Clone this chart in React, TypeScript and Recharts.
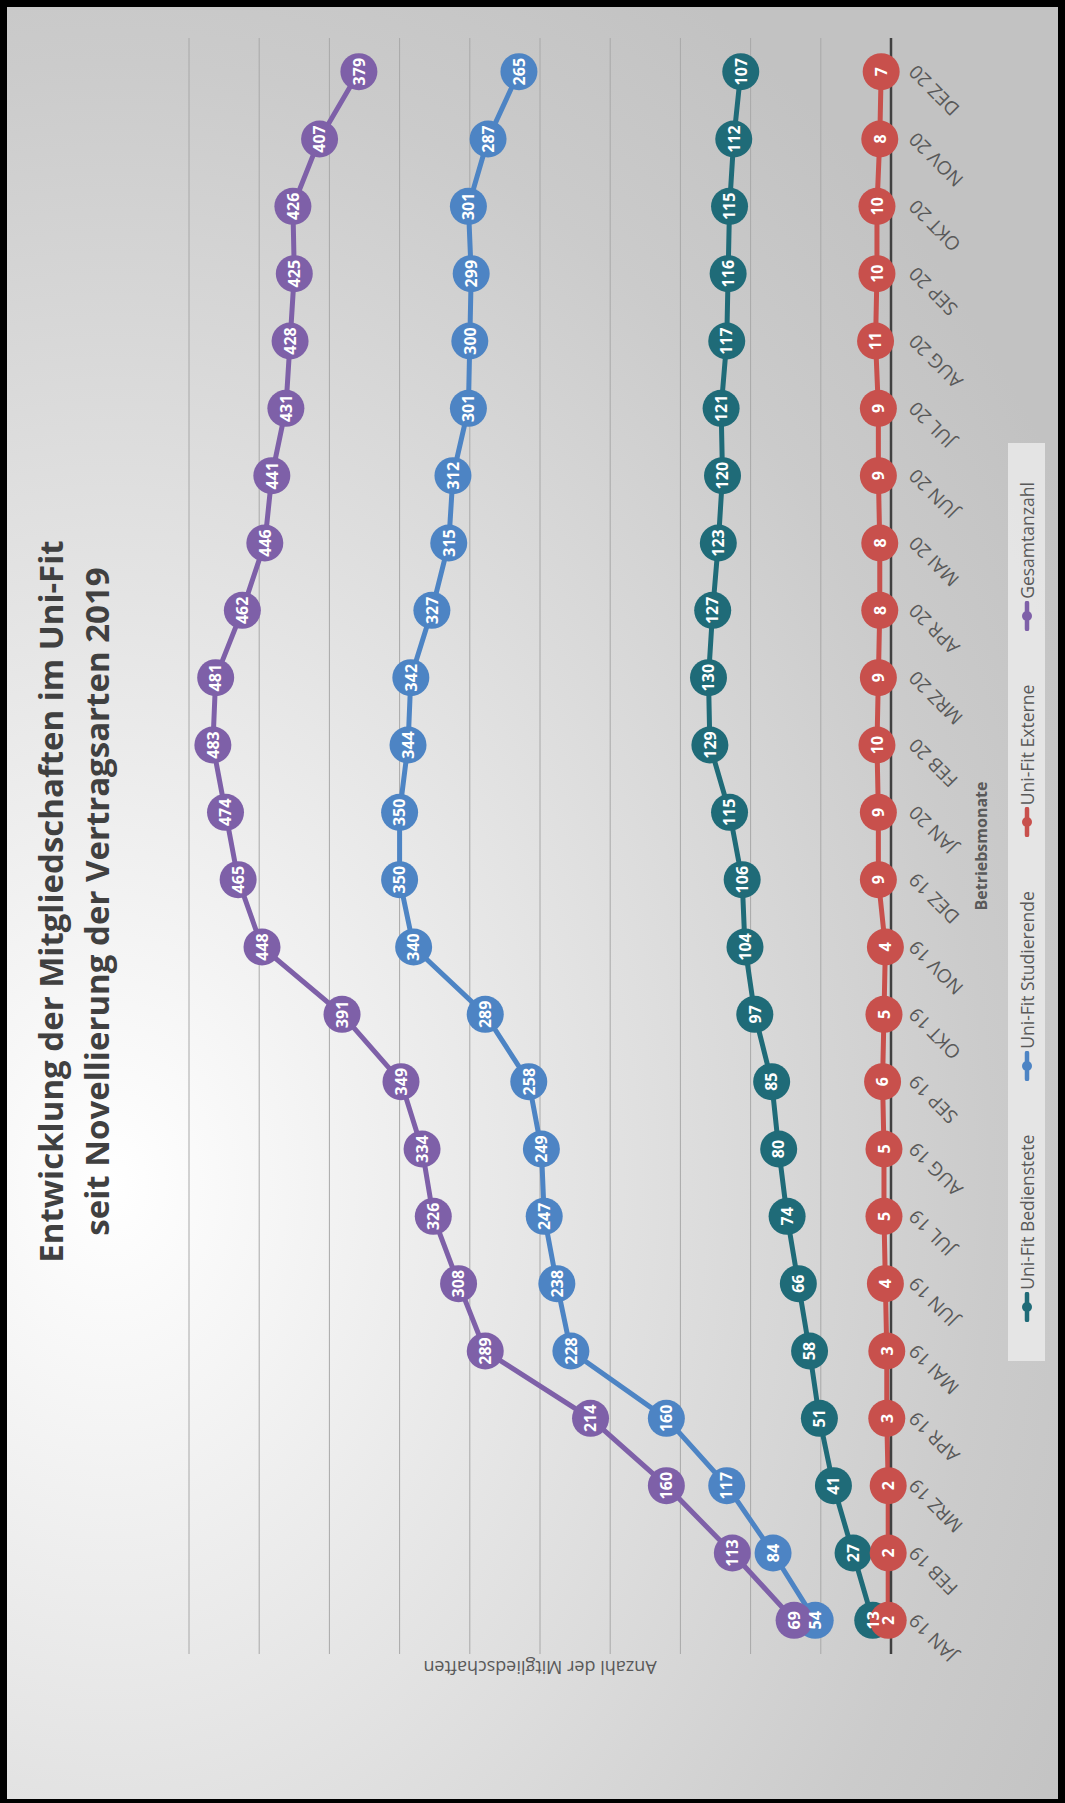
import { CartesianGrid, Legend, Line, LineChart, XAxis, YAxis } from "recharts";

const MONTHS = [
  "JAN 19", "FEB 19", "MRZ 19", "APR 19", "MAI 19", "JUN 19",
  "JUL 19", "AUG 19", "SEP 19", "OKT 19", "NOV 19", "DEZ 19",
  "JAN 20", "FEB 20", "MRZ 20", "APR 20", "MAI 20", "JUN 20",
  "JUL 20", "AUG 20", "SEP 20", "OKT 20", "NOV 20", "DEZ 20",
];

const BEDIENSTETE = [13, 27, 41, 51, 58, 66, 74, 80, 85, 97, 104, 106, 115, 129, 130, 127, 123, 120, 121, 117, 116, 115, 112, 107];
const STUDIERENDE = [54, 84, 117, 160, 228, 238, 247, 249, 258, 289, 340, 350, 350, 344, 342, 327, 315, 312, 301, 300, 299, 301, 287, 265];
const EXTERNE = [2, 2, 2, 3, 3, 4, 5, 5, 6, 5, 4, 9, 9, 10, 9, 8, 8, 9, 9, 11, 10, 10, 8, 7];
const GESAMT = [69, 113, 160, 214, 289, 308, 326, 334, 349, 391, 448, 465, 474, 483, 481, 462, 446, 441, 431, 428, 425, 426, 407, 379];

const Y_TICKS = [0, 50, 100, 150, 200, 250, 300, 350, 400, 450, 500];

const SERIES = [
  { key: "bedienstete", name: "Uni-Fit Bedienstete", color: "#1f6b78" },
  { key: "studierende", name: "Uni-Fit Studierende", color: "#4d84c4" },
  { key: "externe", name: "Uni-Fit Externe", color: "#c8504c" },
  { key: "gesamt", name: "Gesamtanzahl", color: "#7e60a8" },
];

const rows = MONTHS.map((month, i) => ({
  month,
  bedienstete: BEDIENSTETE[i],
  studierende: STUDIERENDE[i],
  externe: EXTERNE[i],
  gesamt: GESAMT[i],
}));

// chart is laid out landscape, then turned a quarter left like the picture
const W = 1803;
const H = 1065;
const FONT = '"Open Sans", "DejaVu Sans", sans-serif';
const TEXT = "#595959";

function MonthTick(props: any) {
  const { x, y, payload } = props;
  const ax = x + 8;
  const ay = y + 18;
  return (
    <text
      x={ax}
      y={ay}
      transform={`rotate(-45 ${ax} ${ay})`}
      textAnchor="end"
      fontSize={19}
      fontFamily={FONT}
      fill={TEXT}
    >
      {payload.value}
    </text>
  );
}

// value axis has no tick labels, but the ticks must exist for the grid
function NoTick() {
  return <g />;
}

function marker(color: string) {
  return (p: any) => {
    if (p.cx == null || p.cy == null) return <g key={p.key} />;
    return <circle key={p.key} cx={p.cx} cy={p.cy} r={18.5} fill={color} />;
  };
}

function valueLabel(p: any) {
  if (p.cx == null || p.cy == null) return <g key={p.key} />;
  return (
    <text
      key={p.key}
      x={p.cx}
      y={p.cy}
      dy="0.36em"
      textAnchor="middle"
      fontSize={16}
      fontWeight={700}
      fontFamily={FONT}
      fill="#ffffff"
    >
      {p.value}
    </text>
  );
}

function LegendBox() {
  return (
    <div
      style={{
        width: 918,
        height: 37,
        background: "rgba(234,234,234,0.85)",
        display: "flex",
        alignItems: "center",
        justifyContent: "center",
        gap: 54,
        fontFamily: FONT,
        fontSize: 17.5,
        color: TEXT,
      }}
    >
      {SERIES.map((s) => (
        <span key={s.key} style={{ display: "flex", alignItems: "center", gap: 2 }}>
          <svg width={30} height={12}>
            <line x1={2} y1={6} x2={28} y2={6} stroke={s.color} strokeWidth={4.5} strokeLinecap="round" />
            <circle cx={15} cy={6} r={5} fill={s.color} />
          </svg>
          {s.name}
        </span>
      ))}
    </div>
  );
}

export default function App() {
  return (
    <div style={{ position: "absolute", left: 0, top: 0, width: H, height: W, overflow: "hidden" }}>
      <div
        style={{
          position: "absolute",
          left: 0,
          top: 0,
          width: W,
          height: H,
          transformOrigin: "0 0",
          transform: `translate(0px, ${W}px) rotate(-90deg)`,
          background:
            "radial-gradient(ellipse 1400px 1100px at 620px 110px, #ffffff 0%, #f5f5f5 16%, #e2e2e2 45%, #cbcbcb 80%, #c2c2c2 100%)",
        }}
      >
        <LineChart width={W} height={H} data={rows} margin={{ top: 189, right: 38, left: 129, bottom: 57 }}>
          <CartesianGrid vertical={false} stroke="#a8a8a8" strokeWidth={1} />
          <XAxis
            dataKey="month"
            scale="band"
            interval={0}
            height={117}
            tick={<MonthTick />}
            tickLine={false}
            axisLine={{ stroke: "#404040", strokeWidth: 2.5 }}
            label={(p: any) => {
              const vb = p.viewBox;
              return (
                <text
                  x={vb.x + vb.width / 2}
                  y={vb.y + 96}
                  textAnchor="middle"
                  fontSize={16}
                  fontWeight={700}
                  fontFamily={FONT}
                  fill={TEXT}
                >
                  Betriebsmonate
                </text>
              );
            }}
          />
          <YAxis
            width={20}
            domain={[0, 500]}
            ticks={Y_TICKS}
            interval={0}
            tick={<NoTick />}
            tickLine={false}
            axisLine={false}
            label={(p: any) => {
              const vb = p.viewBox || {};
              const lx = (vb.x ?? 129) + (vb.width ?? 20) - 7;
              const ly = (vb.y ?? 189) + (vb.height ?? 702) / 2;
              return (
                <text
                  x={lx}
                  y={ly}
                  transform={`rotate(-90 ${lx} ${ly})`}
                  textAnchor="middle"
                  fontSize={18}
                  fontFamily={FONT}
                  fill={TEXT}
                >
                  Anzahl der Mitgliedschaften
                </text>
              );
            }}
          />
          {/* vertical/middle keeps the legend out of the plot offset (its box is measured after the rotation) */}
          <Legend
            layout="vertical"
            verticalAlign="middle"
            align="center"
            wrapperStyle={{ left: 442, top: 1008, width: 918, height: 37 }}
            content={() => <LegendBox />}
          />
          {SERIES.map((s) => (
            <Line
              key={s.key}
              dataKey={s.key}
              name={s.name}
              stroke={s.color}
              strokeWidth={5}
              dot={marker(s.color)}
              activeDot={false}
              isAnimationActive={false}
            />
          ))}
          {SERIES.map((s) => (
            <Line
              key={s.key + "-label"}
              dataKey={s.key}
              stroke="none"
              legendType="none"
              dot={valueLabel}
              activeDot={false}
              isAnimationActive={false}
            />
          ))}
        </LineChart>
        <div
          style={{
            position: "absolute",
            left: 0,
            top: 28,
            width: W,
            textAlign: "center",
            fontFamily: FONT,
            fontWeight: 700,
            fontSize: 33,
            lineHeight: "46px",
            color: "#404040",
          }}
        >
          Entwicklung der Mitgliedschaften im Uni-Fit
          <br />
          seit Novellierung der Vertragsarten 2019
        </div>
        <div
          style={{
            position: "absolute",
            inset: 0,
            borderStyle: "solid",
            borderColor: "#000",
            borderWidth: "7px 7px 7px 4px",
            pointerEvents: "none",
          }}
        />
      </div>
    </div>
  );
}
